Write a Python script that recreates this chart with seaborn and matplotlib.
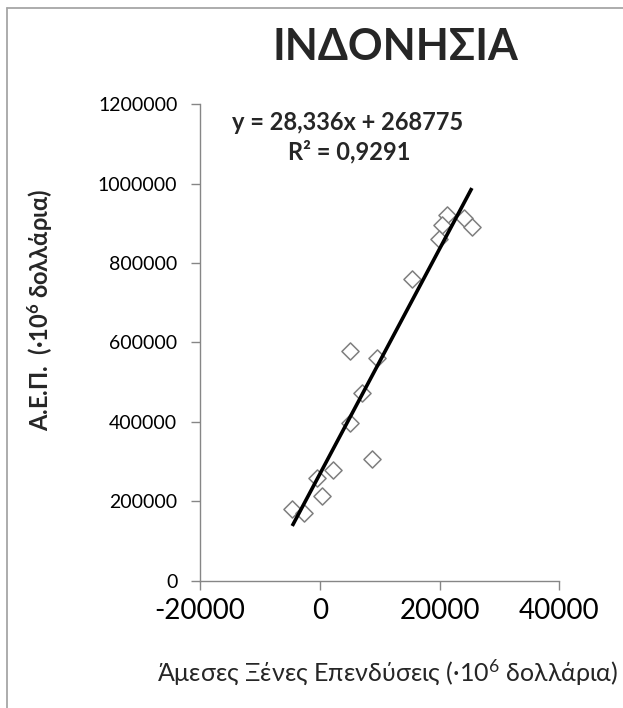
import numpy as np
import pandas as pd
import matplotlib
matplotlib.use("Agg")
import matplotlib.pyplot as plt
from matplotlib.lines import Line2D
import seaborn as sns

# Foreign direct investment (x) and GDP (y), millions of dollars
fdi = [-4600, -2670, -430, 2240, 400, 8640, 5130, 9590, 7080, 5010,
       21290, 20450, 19880, 24060, 25400, 15440]
gdp = [181000, 170000, 258000, 279000, 215000, 307000, 579000, 560000,
       472000, 397000, 921000, 896000, 860000, 912000, 891000, 759000]

# Linear trend reported on the chart
slope = 28.336
intercept = 268775
r_squared = 0.9291

x_ticks = [-20000, 0, 20000, 40000]
y_ticks = [0, 200000, 400000, 600000, 800000, 1000000, 1200000]

title = "ΙΝΔΟΝΗΣΙΑ"
x_label = r"Άμεσες Ξένες Επενδύσεις (·10$^{6}$ δολλάρια)"
y_label = r"Α.Ε.Π.  (·10$^{6}$ δολλάρια)"

sns.set_theme(style="white")
plt.rcParams["font.family"] = ["Lato", "Open Sans", "Noto Sans", "DejaVu Sans"]
plt.rcParams["mathtext.default"] = "regular"
plt.rcParams["axes.unicode_minus"] = False

df = pd.DataFrame({"fdi": fdi, "gdp": gdp})

fig = plt.figure(figsize=(6.23, 7.08), dpi=100)
ax = fig.add_axes([0.321, 0.1794, 0.5768, 0.6737])

sns.scatterplot(data=df, x="fdi", y="gdp", ax=ax, marker="D", s=76,
                facecolor="white", edgecolor="#7f7f7f", linewidth=1.1,
                zorder=3)

# Trend line across the range of the data
xs = np.array([min(fdi), max(fdi)])
ax.plot(xs, slope * xs + intercept, color="black", lw=2.6, zorder=4,
        solid_capstyle="butt")

ax.set_xlim(x_ticks[0], x_ticks[-1])
ax.set_ylim(y_ticks[0], y_ticks[-1])
ax.set_xticks(x_ticks)
ax.set_yticks(y_ticks)
ax.set_xticklabels([str(v) for v in x_ticks])
ax.set_yticklabels([str(v) for v in y_ticks])
ax.set_xlabel("")
ax.set_ylabel("")

axis_color = "#868686"
for side in ["top", "right"]:
    ax.spines[side].set_visible(False)
for side in ["left", "bottom"]:
    ax.spines[side].set_color(axis_color)
    ax.spines[side].set_linewidth(1.0)
ax.tick_params(axis="both", which="major", direction="out", length=6.3,
               width=1.0, color=axis_color, labelcolor="black",
               left=True, bottom=True)
ax.tick_params(axis="y", labelsize=14, pad=10)
ax.tick_params(axis="x", labelsize=20, pad=6)
ax.grid(False)

eq_text = f"y = {str(slope).replace('.', ',')}x + {intercept}"
r2_text = f"R² = {str(r_squared).replace('.', ',')}"
fig.text(348 / 623, 1 - 122 / 708, eq_text, ha="center", va="center",
         fontsize=17, fontweight="bold")
fig.text(349 / 623, 1 - 152 / 708, r2_text, ha="center", va="center",
         fontsize=17, fontweight="bold")

fig.text(395 / 623, 1 - 47 / 708, title, ha="center", va="center",
         fontsize=31, fontweight="bold")
fig.text(40 / 623, 1 - 310 / 708, y_label, ha="center", va="center",
         rotation=90, fontsize=17, fontweight="bold")
fig.text(388 / 623, 1 - 672 / 708, x_label, ha="center", va="center",
         fontsize=18)

# Chart area frame (top and left edges)
frame = "#a6a6a6"
fig.add_artist(Line2D([7 / 623, 1.0], [1 - 8 / 708, 1 - 8 / 708],
                      transform=fig.transFigure, color=frame, lw=1.3))
fig.add_artist(Line2D([7 / 623, 7 / 623], [0.0, 1 - 8 / 708],
                      transform=fig.transFigure, color=frame, lw=1.3))

fig.savefig("out.png", dpi=100)
